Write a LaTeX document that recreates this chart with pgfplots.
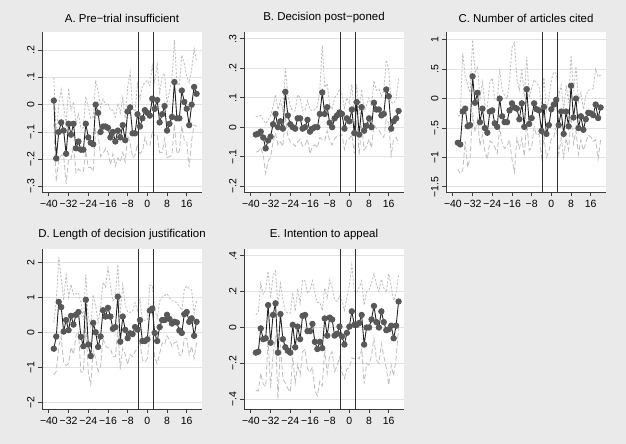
\documentclass[border=0pt]{standalone}
\usepackage{pgfplots}
\usepackage{pgfplotstable}
\usepackage{fontspec}
\setmainfont{Liberation Sans}
\pgfplotsset{compat=1.18}

\definecolor{bgcol}{RGB}{234,234,234}
\definecolor{gridcol}{RGB}{226,226,226}
\definecolor{axcol}{RGB}{60,60,60}
\definecolor{linecol}{RGB}{35,35,35}
\definecolor{mkcol}{RGB}{88,88,88}
\definecolor{cicol}{RGB}{190,190,190}
\definecolor{vcol}{RGB}{50,50,50}

% event-time estimates with lower and upper confidence bounds
\pgfplotstableread{
x est lo hi
-38 0.015 -0.070 0.100
-37 -0.197 -0.282 -0.112
-36 -0.100 -0.200 0.000
-35 -0.065 -0.185 0.055
-34 -0.095 -0.185 -0.005
-33 -0.180 -0.290 -0.070
-32 -0.070 -0.200 0.060
-31 -0.110 -0.200 -0.020
-30 -0.070 -0.150 0.010
-29 -0.160 -0.250 -0.070
-28 -0.135 -0.235 -0.035
-27 -0.165 -0.245 -0.085
-26 -0.165 -0.245 -0.085
-25 -0.070 -0.170 0.030
-24 -0.120 -0.230 -0.010
-23 -0.140 -0.230 -0.050
-22 -0.145 -0.245 -0.045
-21 0.000 -0.090 0.090
-20 -0.030 -0.110 0.050
-19 -0.100 -0.190 -0.010
-18 -0.080 -0.180 0.020
-17 -0.080 -0.160 0.000
-16 -0.085 -0.175 0.005
-15 -0.120 -0.220 -0.020
-14 -0.100 -0.180 -0.020
-13 -0.135 -0.225 -0.045
-12 -0.095 -0.195 0.005
-11 -0.120 -0.210 -0.030
-10 -0.075 -0.175 0.025
-9 -0.130 -0.210 -0.050
-8 -0.025 -0.115 0.065
-7 -0.010 -0.140 0.120
-6 -0.105 -0.195 -0.015
-5 -0.105 -0.185 -0.025
-4 -0.035 -0.145 0.075
-3 -0.080 -0.180 0.020
-2 -0.050 -0.170 0.070
-1 -0.020 -0.120 0.080
0 -0.030 -0.150 0.090
1 -0.040 -0.150 0.070
2 0.022 -0.098 0.142
3 -0.015 -0.115 0.085
4 0.017 -0.113 0.147
5 -0.065 -0.175 0.045
6 -0.035 -0.175 0.105
7 -0.005 -0.125 0.115
8 -0.095 -0.195 0.005
9 -0.070 -0.190 0.050
10 -0.045 -0.185 0.095
11 0.083 -0.072 0.238
12 -0.050 -0.180 0.080
13 -0.050 -0.170 0.070
14 0.052 -0.078 0.182
15 0.010 -0.130 0.150
16 -0.015 -0.135 0.105
17 -0.075 -0.230 0.080
18 0.000 -0.130 0.130
19 0.065 -0.075 0.205
20 0.040 -0.080 0.160
}\dataA

\pgfplotstableread{
x est lo hi
-38 -0.025 -0.085 0.035
-37 -0.022 -0.082 0.038
-36 -0.015 -0.070 0.040
-35 -0.035 -0.095 0.025
-34 -0.072 -0.157 0.013
-33 -0.045 -0.115 0.025
-32 -0.032 -0.102 0.038
-31 0.010 -0.050 0.070
-30 0.045 -0.020 0.110
-29 0.000 -0.060 0.060
-28 0.020 -0.050 0.090
-27 -0.005 -0.065 0.055
-26 0.120 0.040 0.200
-25 0.040 -0.030 0.110
-24 0.010 -0.050 0.070
-23 0.000 -0.055 0.055
-22 -0.005 -0.065 0.055
-21 0.030 -0.050 0.110
-20 0.030 -0.040 0.100
-19 -0.005 -0.065 0.055
-18 0.000 -0.060 0.060
-17 0.025 -0.040 0.090
-16 -0.015 -0.090 0.060
-15 -0.005 -0.065 0.055
-14 0.000 -0.060 0.060
-13 0.000 -0.070 0.070
-12 0.045 -0.035 0.125
-11 0.118 -0.042 0.278
-10 0.045 -0.045 0.135
-9 0.068 -0.012 0.148
-8 0.015 -0.045 0.075
-7 0.000 -0.060 0.060
-6 0.030 -0.040 0.100
-5 0.040 -0.030 0.110
-4 0.050 -0.030 0.130
-3 0.045 -0.025 0.115
-2 -0.005 -0.075 0.065
-1 0.030 -0.040 0.100
0 0.020 -0.040 0.080
1 0.060 -0.025 0.145
2 -0.020 -0.090 0.050
3 0.085 0.025 0.145
4 -0.025 -0.095 0.045
5 0.068 0.008 0.128
6 -0.012 -0.077 0.053
7 0.005 -0.065 0.075
8 0.030 -0.040 0.100
9 0.000 -0.070 0.070
10 0.083 0.008 0.158
11 0.060 -0.005 0.125
12 0.060 -0.010 0.130
13 0.040 -0.025 0.105
14 0.045 -0.035 0.125
15 0.128 0.028 0.228
16 0.105 0.015 0.195
17 -0.005 -0.095 0.085
18 0.020 -0.040 0.080
19 0.030 -0.035 0.095
20 0.055 -0.055 0.165
}\dataB

\pgfplotstableread{
x est lo hi
-38 -0.75 -1.20 -0.30
-37 -0.78 -1.28 -0.28
-36 -0.22 -1.22 0.78
-35 -0.17 -0.72 0.38
-34 -0.47 -1.17 0.23
-33 -0.45 -1.00 0.10
-32 0.38 -0.24 1.00
-31 -0.07 -0.57 0.43
-30 0.10 -0.35 0.55
-29 -0.40 -0.80 0.00
-28 -0.17 -0.62 0.28
-27 -0.50 -0.90 -0.10
-26 -0.58 -1.03 -0.13
-25 -0.22 -0.72 0.28
-24 -0.20 -0.75 0.35
-23 -0.42 -0.82 -0.02
-22 -0.48 -0.93 -0.03
-21 0.00 -0.50 0.50
-20 -0.30 -0.75 0.15
-19 -0.40 -0.85 0.05
-18 -0.40 -0.80 0.00
-17 -0.20 -0.70 0.30
-16 -0.08 -1.03 0.87
-15 -0.15 -1.25 0.95
-14 -0.17 -0.67 0.33
-13 -0.35 -0.85 0.15
-12 -0.08 -0.68 0.52
-11 -0.48 -0.98 0.02
-10 0.16 -0.39 0.71
-9 -0.43 -0.88 0.02
-8 -0.33 -0.83 0.17
-7 -0.08 -0.48 0.32
-6 -0.18 -0.63 0.27
-5 -0.20 -0.60 0.20
-4 -0.55 -1.00 -0.10
-3 -0.14 -0.64 0.36
-2 -0.60 -1.00 -0.20
-1 -0.45 -0.90 0.00
0 -0.18 -0.68 0.32
1 -0.10 -0.65 0.45
2 -0.02 -0.47 0.43
3 -0.45 -0.95 0.05
4 -0.22 -0.67 0.23
5 -0.60 -1.00 -0.20
6 -0.22 -0.67 0.23
7 -0.47 -0.87 -0.07
8 0.22 -0.30 0.74
9 -0.32 -0.77 0.13
10 0.00 -0.55 0.55
11 -0.50 -0.95 -0.05
12 -0.30 -0.70 0.10
13 -0.53 -0.88 -0.18
14 -0.35 -0.75 0.05
15 -0.24 -0.62 0.14
16 -0.25 -0.65 0.15
17 -0.28 -0.73 0.17
18 -0.10 -0.70 0.50
19 -0.33 -1.03 0.37
20 -0.15 -0.70 0.40
}\dataC

\pgfplotstableread{
x est lo hi
-38 -0.47 -1.22 0.28
-37 -0.12 -1.12 0.88
-36 0.87 -0.41 2.15
-35 0.72 -0.13 1.57
-34 0.02 -0.88 0.92
-33 0.35 -0.95 1.65
-32 0.06 -0.89 1.01
-31 0.47 -0.43 1.37
-30 0.22 -0.63 1.07
-29 0.50 -0.10 1.10
-28 0.58 0.03 1.13
-27 -0.13 -1.13 0.87
-26 -0.40 -1.15 0.35
-25 0.93 0.21 1.65
-24 -0.35 -1.15 0.45
-23 -0.68 -1.50 0.14
-22 0.27 -0.53 1.07
-21 0.00 -0.75 0.75
-20 -0.42 -1.12 0.28
-19 -0.12 -0.97 0.73
-18 0.63 -0.17 1.43
-17 0.45 -0.40 1.30
-16 0.70 -0.45 1.85
-15 0.45 -0.45 1.35
-14 0.10 -0.70 0.90
-13 0.15 -0.70 1.00
-12 1.02 0.10 1.94
-11 -0.27 -1.07 0.53
-10 0.45 -0.45 1.35
-9 0.07 -0.63 0.77
-8 -0.17 -0.92 0.58
-7 -0.03 -0.63 0.57
-6 -0.05 -0.70 0.60
-5 0.15 -0.55 0.85
-4 0.08 -0.47 0.63
-3 0.35 -0.25 0.95
-2 -0.25 -0.80 0.30
-1 -0.25 -0.85 0.35
0 -0.20 -0.75 0.35
1 0.62 -0.11 1.35
2 0.68 0.03 1.33
3 -0.02 -0.72 0.68
4 -0.25 -0.90 0.40
5 0.15 -0.60 0.90
6 0.35 -0.30 1.00
7 0.35 -0.35 1.05
8 0.50 -0.10 1.10
9 0.38 -0.22 0.98
10 0.25 -0.40 0.90
11 0.30 -0.30 0.90
12 0.28 -0.27 0.83
13 0.05 -0.65 0.75
14 -0.02 -0.67 0.63
15 0.52 -0.18 1.22
16 0.58 -0.17 1.33
17 0.30 -0.65 1.25
18 0.40 -0.40 1.20
19 -0.10 -0.75 0.55
20 0.30 -0.30 0.90
}\dataD

\pgfplotstableread{
x est lo hi
-38 -0.140 -0.350 0.070
-37 -0.135 -0.355 0.085
-36 -0.005 -0.255 0.245
-35 -0.065 -0.315 0.185
-34 -0.060 -0.330 0.210
-33 0.125 -0.065 0.315
-32 -0.085 -0.335 0.165
-31 0.070 -0.150 0.290
-30 0.135 -0.045 0.315
-29 -0.140 -0.400 0.120
-28 0.075 -0.095 0.245
-27 -0.065 -0.285 0.155
-26 -0.110 -0.310 0.090
-25 -0.130 -0.340 0.080
-24 -0.140 -0.360 0.080
-23 0.015 -0.165 0.195
-22 -0.110 -0.310 0.090
-21 0.005 -0.205 0.215
-20 -0.065 -0.265 0.135
-19 0.065 -0.135 0.265
-18 0.070 -0.120 0.260
-17 -0.020 -0.230 0.190
-16 -0.020 -0.250 0.210
-15 0.020 -0.220 0.260
-14 -0.080 -0.350 0.190
-13 -0.120 -0.380 0.140
-12 -0.080 -0.300 0.140
-11 -0.115 -0.325 0.095
-10 0.050 -0.120 0.220
-9 -0.045 -0.255 0.165
-8 0.055 -0.155 0.265
-7 0.045 -0.135 0.225
-6 -0.045 -0.245 0.155
-5 -0.035 -0.215 0.145
-4 0.005 -0.165 0.175
-3 -0.050 -0.250 0.150
-2 -0.095 -0.285 0.095
-1 -0.030 -0.230 0.170
0 0.005 -0.225 0.235
1 0.090 -0.170 0.350
2 0.015 -0.175 0.205
3 0.015 -0.165 0.195
4 0.025 -0.175 0.225
5 0.070 -0.120 0.260
6 -0.095 -0.315 0.125
7 0.000 -0.200 0.200
8 0.000 -0.210 0.210
9 0.045 -0.155 0.245
10 0.120 -0.060 0.300
11 0.030 -0.180 0.240
12 0.000 -0.200 0.200
13 0.090 -0.090 0.270
14 0.030 -0.160 0.220
15 -0.015 -0.225 0.195
16 -0.010 -0.320 0.300
17 0.010 -0.210 0.230
18 -0.060 -0.270 0.150
19 0.010 -0.170 0.190
20 0.145 -0.005 0.295
}\dataE

\pgfplotsset{
  panel/.style={
    scale only axis, width=160bp, height=160bp,
    anchor=south west,
    xmin=-42.8, xmax=22.2,
    axis x line*=bottom, axis y line*=left,
    axis line style={draw=axcol, line width=0.9bp, -},
    axis background/.style={fill=white},
    tick style={draw=axcol, line width=0.9bp},
    tick align=outside, major tick length=4bp,
    xtick={-40,-32,-24,-16,-8,0,8,16},
    xticklabels={−40,−32,−24,−16,−8,0,8,16},
    ymajorgrids, grid style={draw=gridcol, line width=0.8bp},
    ticklabel style={font=\fontsize{10.5}{12}\selectfont, text=black},
    yticklabel style={rotate=90, anchor=south},
    title style={font=\fontsize{11.5}{13}\selectfont, at={(0.5,1)}, anchor=south, yshift=0.5bp},
  },
  upper/.style={cicol, line width=0.8bp, dash pattern=on 2.2bp off 1.6bp},
  lower/.style={cicol, line width=0.8bp, dash pattern=on 5bp off 2.5bp},
  est/.style={linecol, line width=0.9bp, mark=*, mark size=2.7bp,
    mark options={solid, fill=mkcol, draw=mkcol}},
  event/.style={vcol, line width=1.1bp},
}

\newcommand{\panelbody}[1]{%
  \addplot[upper] table[x=x, y=hi] {#1};
  \addplot[lower] table[x=x, y=lo] {#1};
  \addplot[event] coordinates {(-3.5,-10) (-3.5,10)};
  \addplot[event] coordinates {(2.5,-10) (2.5,10)};
  \addplot[est] table[x=x, y=est] {#1};
}

\begin{document}
\begin{tikzpicture}
\fill[bgcol] (0,0) rectangle (626bp,444bp);

\begin{axis}[panel, at={(42bp,251.5bp)},
  title={A. Pre−trial insufficient},
  ymin=-0.322, ymax=0.265,
  ytick={-0.3,-0.2,-0.1,0,0.1,0.2},
  yticklabels={−.3,−.2,−.1,0,.1,.2}]
\panelbody{\dataA}
\end{axis}

\begin{axis}[panel, at={(244bp,251.5bp)},
  title={B. Decision post−poned},
  ymin=-0.2215, ymax=0.3215,
  ytick={-0.2,-0.1,0,0.1,0.2,0.3},
  yticklabels={−.2,−.1,0,.1,.2,.3}]
\panelbody{\dataB}
\end{axis}

\begin{axis}[panel, at={(446bp,251.5bp)},
  title={C. Number of articles cited},
  ymin=-1.597, ymax=1.126,
  ytick={-1.5,-1,-0.5,0,0.5,1},
  yticklabels={−1.5,−1,−.5,0,.5,1}]
\panelbody{\dataC}
\end{axis}

\begin{axis}[panel, at={(42bp,34.5bp)},
  title={D. Length of decision justification},
  ymin=-2.21, ymax=2.37,
  ytick={-2,-1,0,1,2},
  yticklabels={−2,−1,0,1,2}]
\panelbody{\dataD}
\end{axis}

\begin{axis}[panel, at={(244bp,34.5bp)},
  title={E. Intention to appeal},
  ymin=-0.457, ymax=0.435,
  ytick={-0.4,-0.2,0,0.2,0.4},
  yticklabels={−.4,−.2,0,.2,.4}]
\panelbody{\dataE}
\end{axis}

\pgfresetboundingbox
\path[use as bounding box] (0,0) rectangle (626bp,444bp);
\end{tikzpicture}
\end{document}
